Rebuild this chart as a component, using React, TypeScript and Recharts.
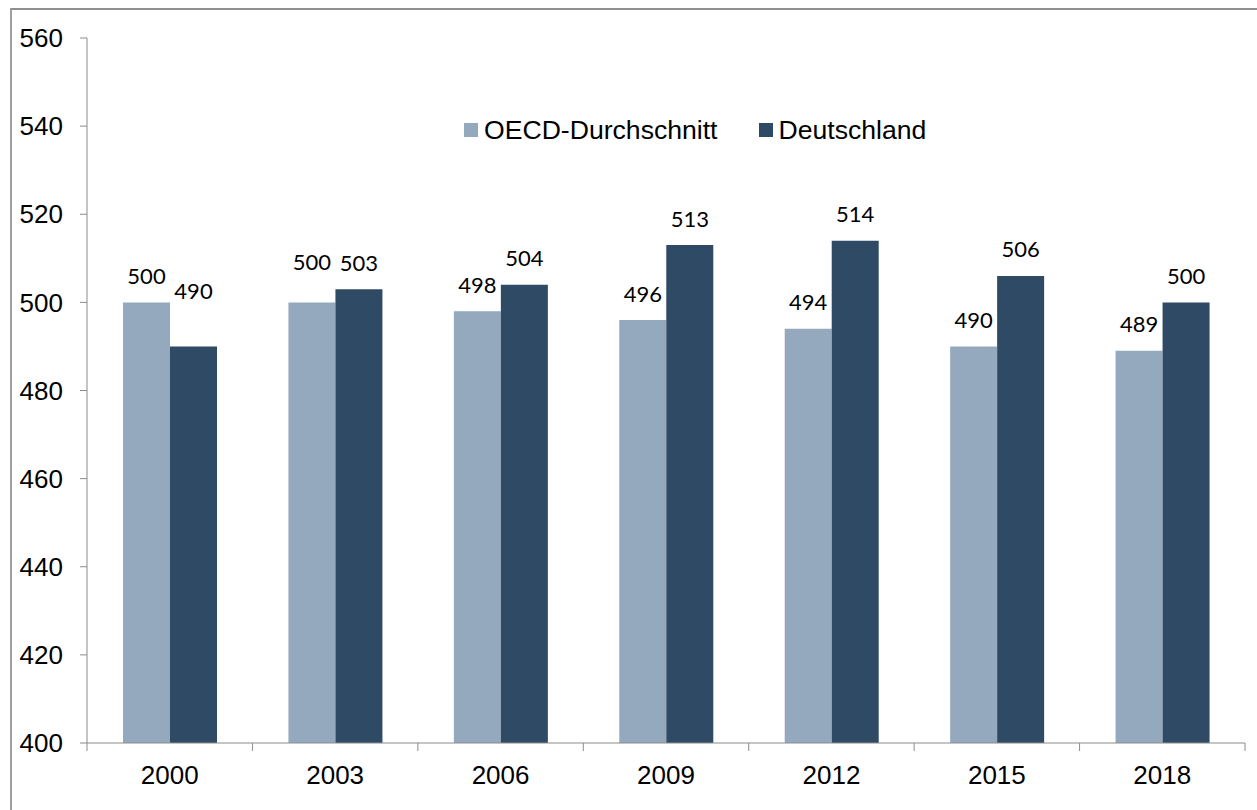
import React from "react";
import { BarChart, Bar, XAxis, YAxis, Legend, LabelList } from "recharts";

const years = ["2000", "2003", "2006", "2009", "2012", "2015", "2018"];
const oecdValues = [500, 500, 498, 496, 494, 490, 489];
const deValues = [490, 503, 504, 513, 514, 506, 500];
const yTicks = [400, 420, 440, 460, 480, 500, 520, 540, 560];
const seriesNames = ["OECD-Durchschnitt", "Deutschland"];

// manual label nudges (in px, upward) as in the original
const oecdLabelNudge = [0, 14, 0, 0, 0, 0, 0];
const deLabelNudge = [29, 0, 0, 0, 0, 0, 0];

const COLORS = ["#94A9BD", "#2E4A65"];
const AXIS = "#8c8c8c";
const W = 1257;
const H = 810;
const MARGIN = { top: 38, right: 12, bottom: 27, left: 0 };
const Y_AXIS_W = 87;

const data = years.map((y, i) => ({ year: y, oecd: oecdValues[i], de: deValues[i] }));

const XTick = (props: any) => {
  const { x, y, payload, index } = props;
  const fallback = (W - Y_AXIS_W - MARGIN.right) / years.length / 2;
  const half = payload && payload.offset ? payload.offset : fallback;
  const last = index === years.length - 1;
  return (
    <g>
      <line x1={x - half} x2={x - half} y1={y} y2={y + 8} stroke={AXIS} strokeWidth={1} />
      {last && <line x1={x + half} x2={x + half} y1={y} y2={y + 8} stroke={AXIS} strokeWidth={1} />}
      <text
        x={x}
        y={y + 41}
        textAnchor="middle"
        fill="#000"
        style={{ fontFamily: "'Liberation Sans', Arial, sans-serif", fontSize: 26 }}
      >
        {payload.value}
      </text>
    </g>
  );
};

const makeLabel = (nudge: number[]) => (props: any) => {
  const { x, y, width, value, index } = props;
  const lift = 27 + (nudge[index] || 0);
  return (
    <text
      x={x + width / 2}
      y={y - lift}
      textAnchor="middle"
      dominantBaseline="central"
      fill="#000"
      style={{ fontFamily: "Lato, 'Open Sans', sans-serif", fontSize: 22 }}
    >
      {value}
    </text>
  );
};

const LegendContent = () => (
  <div style={{ display: "flex", alignItems: "center", fontFamily: "'Liberation Sans', Arial, sans-serif", fontSize: 26.6, color: "#000", whiteSpace: "nowrap", lineHeight: "30px" }}>
    {seriesNames.map((n, i) => (
      <div key={n} style={{ display: "flex", alignItems: "center", marginRight: i === 0 ? 41 : 0 }}>
        <span style={{ display: "inline-block", width: 14, height: 14, background: COLORS[i], marginRight: 6 }} />
        <span>{n}</span>
      </div>
    ))}
  </div>
);

export default function App() {
  return (
    <div style={{ position: "fixed", left: 0, top: 0, width: W, height: H, overflow: "hidden", background: "#fff" }}>
      <div
        style={{
          position: "absolute",
          left: 10,
          top: 8,
          width: W + 50,
          height: H + 50,
          borderTop: "2px solid #8f8f8f",
          borderLeft: "2px solid #a0a0a0",
        }}
      />
      <div style={{ position: "absolute", left: 0, top: 0 }}>
        <BarChart width={W} height={H} data={data} margin={MARGIN} barSize={47} barGap={0}>
          <XAxis
            dataKey="year"
            height={40}
            axisLine={{ stroke: AXIS, strokeWidth: 1 }}
            tickLine={false}
            tickSize={0}
            tickMargin={0}
            tick={<XTick />}
            interval={0}
          />
          <YAxis
            width={Y_AXIS_W}
            domain={[400, 560]}
            ticks={yTicks}
            interval={0}
            allowDataOverflow
            axisLine={{ stroke: AXIS, strokeWidth: 1 }}
            tickLine={{ stroke: AXIS, strokeWidth: 1 }}
            tickSize={7}
            tickMargin={17}
            tick={{ fill: "#000", fontSize: 26, fontFamily: "'Liberation Sans', Arial, sans-serif" }}
          />
          <Legend
            layout="horizontal"
            verticalAlign="middle"
            align="center"
            content={<LegendContent />}
            wrapperStyle={{ left: 464, top: 115, width: "auto" }}
          />
          <Bar dataKey="oecd" name={seriesNames[0]} fill={COLORS[0]} isAnimationActive={false}>
            <LabelList dataKey="oecd" content={makeLabel(oecdLabelNudge)} />
          </Bar>
          <Bar dataKey="de" name={seriesNames[1]} fill={COLORS[1]} isAnimationActive={false}>
            <LabelList dataKey="de" content={makeLabel(deLabelNudge)} />
          </Bar>
        </BarChart>
      </div>
    </div>
  );
}
